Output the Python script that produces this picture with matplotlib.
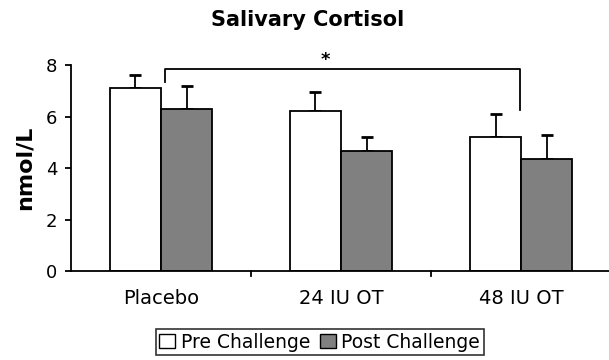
import matplotlib
matplotlib.use("Agg")
import matplotlib.pyplot as plt
import numpy as np
from matplotlib.patches import Patch

categories = ["Placebo", "24 IU OT", "48 IU OT"]
pre_values = [7.1, 6.2, 5.2]
pre_err = [0.5, 0.75, 0.9]
post_values = [6.3, 4.65, 4.35]
post_err = [0.9, 0.55, 0.95]
series_names = ["Pre Challenge", "Post Challenge"]
yticks = [0, 2, 4, 6, 8]

fig = plt.figure(figsize=(6.09, 3.6), dpi=100)
ax = fig.add_axes([0.1166, 0.247, 0.887, 0.572])

x = np.arange(len(categories))
w = 0.285
ax.bar(x - w / 2, pre_values, w, color="white", edgecolor="black", linewidth=1.3, zorder=2)
ax.bar(x + w / 2, post_values, w, color="#808080", edgecolor="black", linewidth=1.3, zorder=2)
ax.errorbar(x - w / 2, pre_values, yerr=[np.zeros(3), pre_err], fmt="none",
            ecolor="black", elinewidth=1.3, capsize=4, capthick=2, zorder=1)
ax.errorbar(x + w / 2, post_values, yerr=[np.zeros(3), post_err], fmt="none",
            ecolor="black", elinewidth=1.3, capsize=4, capthick=2, zorder=1)

ax.set_xlim(-0.5, 2.5)
ax.set_ylim(0, 8)
ax.set_yticks(yticks)
ax.set_yticklabels([str(t) for t in yticks], fontsize=13)
ax.set_xticks(x)
ax.set_xticklabels(categories, fontsize=14)
ax.tick_params(axis="x", length=0, pad=13)
ax.tick_params(axis="y", length=4, width=1.3, direction="out", pad=6)
for s in ["top", "right"]:
    ax.spines[s].set_visible(False)
ax.spines["left"].set_linewidth(1.3)
ax.spines["bottom"].set_linewidth(1.3)
# category dividers
for d in [0.5, 1.5]:
    ax.plot([d, d], [0, -0.2], color="black", lw=1.3, clip_on=False)

ax.set_ylabel("nmol/L", fontsize=16, fontweight="bold", labelpad=8)
fig.text(0.505, 0.945, "Salivary Cortisol", ha="center", va="center",
         fontsize=15, fontweight="bold")

# significance bracket
bx0 = 0.02
bx1 = 1.995
by = 7.85
ax.plot([bx0, bx0, bx1, bx1], [7.35, by, by, 6.25], color="black", lw=1.3,
        clip_on=False)
ax.text(0.91, by + 0.02, "*", ha="center", va="bottom",
        fontsize=13, fontweight="bold", clip_on=False)

handles = [Patch(facecolor="white", edgecolor="black", linewidth=1),
           Patch(facecolor="#808080", edgecolor="black", linewidth=1)]
leg = fig.legend(handles, series_names, loc="center", bbox_to_anchor=(0.525, 0.05),
                 ncol=2, fontsize=13.5, frameon=True, fancybox=False,
                 handlelength=0.85, handleheight=0.85, handletextpad=0.3,
                 columnspacing=0.5, borderpad=0.2, borderaxespad=0,
                 edgecolor="black")
leg.get_frame().set_linewidth(1.2)

fig.savefig("out.png", dpi=100)
